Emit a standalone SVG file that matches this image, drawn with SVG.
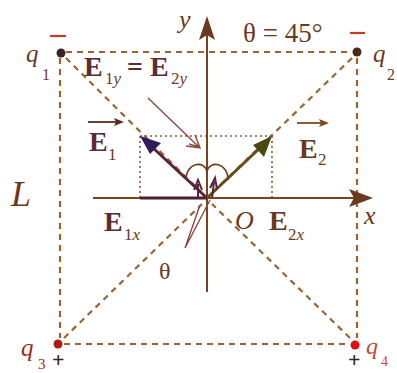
<svg xmlns="http://www.w3.org/2000/svg" width="397" height="373" viewBox="0 0 397 373">
<defs>
<style>
.dash{stroke:#9a6434;stroke-width:2.2;stroke-dasharray:6,5;fill:none}
.dot{stroke:#8a5a30;stroke-width:1.6;stroke-dasharray:2,3;fill:none}
.ax{stroke:#7a4320;stroke-width:2;fill:none}
.t{font-family:"Liberation Serif",serif;fill:#6b3a1e}
.it{font-style:italic}
.b{font-weight:bold;fill:#5a2c34}
.thin{stroke:#8a4a3a;stroke-width:1.4;fill:none}
</style>
</defs>
<g id="connectors">
<path class="dash" d="M66,52 H352"/>
<path class="dash" d="M60,58 V338"/>
<path class="dash" d="M64,344 H349"/>
<path class="dash" d="M357,58 V338"/>
<path class="dash" d="M66,58 L202,193"/>
<path class="dash" d="M352,58 L212,193"/>
<path class="dash" d="M64,338 L202,204"/>
<path class="dash" d="M350,338 L212,204"/>
<path class="dot" d="M140,136 H272 M140,136 V198 M272,136 V198"/>
</g>
<g id="axes">
<path class="ax" d="M93,198 H364"/>
<path d="M373,198 L349,189 L354,198 L349,207 Z" fill="#6b3a1e"/>
<path class="ax" d="M207,292 V26"/>
<path d="M207,16 L199,40 L207,35 L215,40 Z" fill="#6b3a1e"/>
<path d="M140,198 H207" stroke="#4a1f36" stroke-width="3"/>
</g>
<g id="E1">
<path d="M207,198 L152,147" stroke="#5a2438" stroke-width="3"/>
<path d="M140,136 L161,143 L150,154 Z" fill="#2e1d5a"/>
</g>
<g id="E2">
<path d="M207,198 L262,146" stroke="#6a4a18" stroke-width="3"/>
<path d="M272,136 L264,157 L253,145 Z" fill="#4a4a10"/>
</g>
<g id="angle">
<path d="M186,180 C186,162 205,160 207,172 C209,160 228,162 228,180" stroke="#6b3a1e" stroke-width="1.6" fill="none"/>
<path d="M198,198 L198,184 M194,190 L198,180 L202,190" stroke="#5a2438" stroke-width="2" fill="none"/>
<path d="M212,198 L214,182 M210,188 L215,178 L217,189" stroke="#5a2438" stroke-width="2" fill="none"/>
<path class="thin" d="M200,205 L185,248 L210,200"/>
</g>
<g id="pointer">
<path class="thin" d="M148,98 L200,148 M186,146 L200,148 L195,135 M189,144 L199,147"/>
</g>
<g id="q1">
<circle cx="61" cy="53" r="4.5" fill="#3a2030"/>
<path d="M50,36 H66" stroke="#c0401e" stroke-width="2.2"/>
<text class="t it" x="26" y="62" font-size="25">q</text>
<text class="t" x="42" y="80" font-size="16">1</text>
</g>
<g id="q2">
<circle cx="357" cy="52" r="4.5" fill="#4a2a1a"/>
<path d="M350,33 H365" stroke="#c0401e" stroke-width="2.2"/>
<text class="t it" x="373" y="62" font-size="25">q</text>
<text class="t" x="387" y="80" font-size="16">2</text>
</g>
<g id="q3">
<circle cx="58" cy="344" r="4.5" fill="#b01a10"/>
<text class="t it" x="21" y="356" font-size="25" style="fill:#a0281e">q</text>
<text class="t" x="38" y="369" font-size="15" style="fill:#a0281e">3</text>
<text class="t" x="52" y="367" font-size="22" font-weight="bold" style="fill:#3a2020">+</text>
</g>
<g id="q4">
<circle cx="355" cy="345" r="4.5" fill="#e01010"/>
<text class="t it" x="366" y="354" font-size="24" style="fill:#c04a30">q</text>
<text class="t" x="381" y="366" font-size="14" style="fill:#c04a30">4</text>
<text class="t" x="348" y="367" font-size="22" font-weight="bold" style="fill:#3a2020">+</text>
</g>
<g id="labels">
<text class="t" x="243" y="42" font-size="27">θ = 45°</text>
<text class="t it" x="179" y="28" font-size="26">y</text>
<text class="t it" x="364" y="224" font-size="26">x</text>
<text class="t it" x="11" y="206" font-size="36">L</text>
<text class="t b" x="84" y="76" font-size="28">E</text>
<text class="t" x="105" y="84" font-size="17">1<tspan class="it">y</tspan></text>
<text class="t b" x="127" y="76" font-size="28">=</text>
<text class="t b" x="150" y="76" font-size="28">E</text>
<text class="t" x="171" y="84" font-size="17">2<tspan class="it">y</tspan></text>
<path d="M88,122 H118" stroke="#5a2a20" stroke-width="1.8"/>
<path d="M124,122 L114,118 L116,122 L114,126 Z" fill="#5a2a20"/>
<text class="t b" x="89" y="151" font-size="28">E</text>
<text class="t" x="108" y="160" font-size="17">1</text>
<path d="M297,123 H323" stroke="#7a4a20" stroke-width="1.8"/>
<path d="M329,123 L319,119 L321,123 L319,127 Z" fill="#7a4a20"/>
<text class="t b" x="299" y="158" font-size="28" style="fill:#6b3a1e">E</text>
<text class="t" x="318" y="165" font-size="17">2</text>
<text class="t b" x="104" y="231" font-size="28">E</text>
<text class="t" x="124" y="240" font-size="17">1<tspan class="it">x</tspan></text>
<text class="t it" x="235" y="229" font-size="26">O</text>
<text class="t b" x="269" y="230" font-size="28" style="fill:#6b3a1e">E</text>
<text class="t" x="288" y="240" font-size="17">2<tspan class="it">x</tspan></text>
<text class="t" x="159" y="279" font-size="24">θ</text>
</g>
</svg>
